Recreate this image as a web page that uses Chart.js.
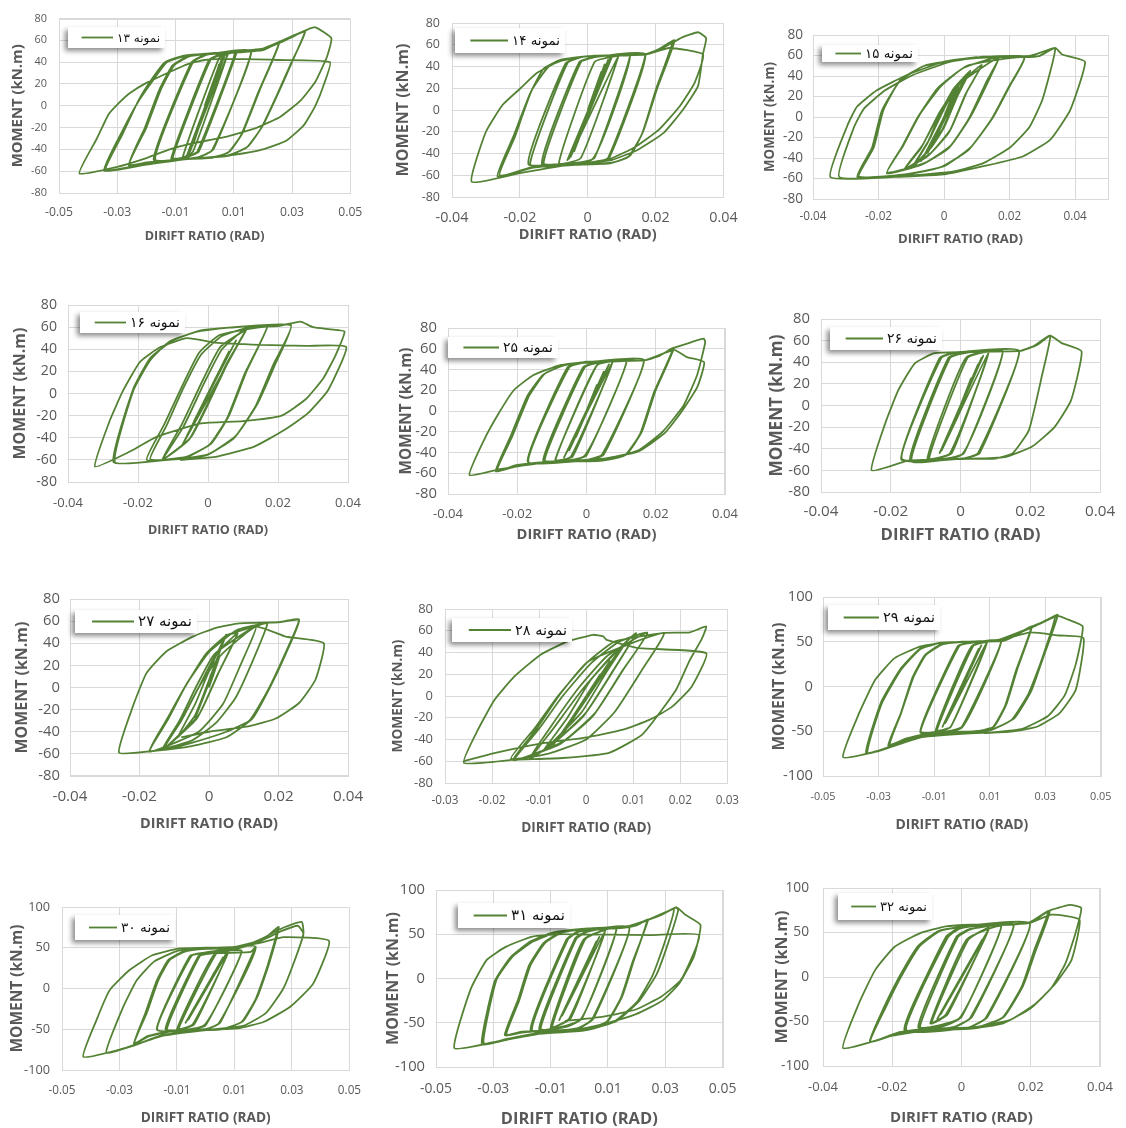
<!DOCTYPE html>
<html lang="en">
<head>
  <meta charset="UTF-8">
  <title>Moment - drift ratio hysteresis</title>
  <script src="https://cdn.jsdelivr.net/npm/chart.js"></script>
  <style>
    html, body { margin: 0; padding: 0; background: #fff; }
    body { position: relative; width: 1126px; height: 1128px; overflow: hidden; }
    canvas { position: absolute; }
  </style>
</head>
<body>
<script>
  // tick values shared by the panels
  const driftTicks05 = [-0.05, -0.03, -0.01, 0.01, 0.03, 0.05];
  const driftTicks04 = [-0.04, -0.02, 0, 0.02, 0.04];
  const driftTicks03 = [-0.03, -0.02, -0.01, 0, 0.01, 0.02, 0.03];
  const momentTicks80 = [-80, -60, -40, -20, 0, 20, 40, 60, 80];
  const momentTicks100 = [-100, -50, 0, 50, 100];

  const xTitle = 'DIRIFT RATIO (RAD)';
  const yTitle = 'MOMENT (kN.m)';

  // [drift (rad), moment (kN.m)] in loading order
  const hyst13 = [
    [0,0],[0.004,30],[-0.003,-28],[0.005,38],[-0.004,-36],[0.006,44],[-0.005,-42],[0.007,47],[-0.006,-45],[0.0065,45],[-0.0055,-44],
    [0.008,48],[-0.004,-42],[-0.0075,-47],[0.005,44],[0.0085,48],
    [0.011,49],[-0.002,-42],[-0.006,-47],[-0.011,-48],[0.002,42],[0.006,47],[0.0105,49],[-0.0025,-42],[-0.0065,-47],[-0.0115,-48.5],[0.0015,42],[0.006,47.5],
    [0.016,50],[0.003,-40],[-0.002,-47],[-0.017,-49],[-0.004,40],[0.001,47],[0.016,50],[0.0025,-41],[-0.003,-47.5],[-0.0175,-49.5],[-0.0045,40],[0.0005,47],
    [0.012,49],[0.02,51],[0.0255,57],[0.019,15],[0.013,-25],[0.0085,-42],[0.003,-47.5],[-0.01,-49.5],[-0.02,-52],[-0.026,-54],[-0.02,-20],[-0.015,15],[-0.0105,37],[-0.005,45.5],[0.005,48.5],[0.02,51.5],[0.0255,57.5],[0.0185,13],[0.0125,-27],[0.008,-43],[0.002,-47.5],[-0.012,-50],[-0.026,-55],[-0.0205,-20],[-0.0155,15],[-0.011,37],[-0.0055,45.5],[0.005,48.5],[0.02,52],[0.026,58],
    [0.03,63],[0.0345,68.5],[0.03,40],[0.025,10],[0.02,-18],[0.015,-37],[0.008,-46],[-0.005,-48.5],[-0.02,-53],[-0.034,-59],[-0.028,-25],[-0.0227,5],[-0.018,25],[-0.0136,40],[-0.007,46],[0.005,48.5],[0.02,52],[0.026,58],[0.0345,68],[0.0295,38],[0.0245,8],[0.0195,-20],[0.0145,-38],[0.0075,-46],[-0.006,-49],[-0.02,-54],[-0.0345,-59.5],[-0.028,-22],[-0.0225,5],[-0.017,26],[-0.013,40],[-0.006,46],[0.006,49],[0.02,52.5],[0.026,59],[0.031,65],
    [0.0345,69],[0.038,72],[0.0435,62],[0.042,45],[0.038,22],[0.033,5],[0.026,-10],[0.018,-20],[0.008,-28],[-0.005,-35],[-0.012,-40],[-0.02,-48],[-0.03,-56],[-0.043,-62],[-0.037,-30],[-0.033,-8],[-0.03,1],[-0.026,11],[-0.02,21],[-0.012,31],[-0.006,38],[0,42],[0.01,43],[0.025,42],[0.043,40],
    [0.041,20],[0.038,0],[0.034,-18],[0.028,-32],[0.02,-40],[0.01,-45],[0,-47.5],[-0.01,-48.5]
  ];

  const hyst14 = [
    [0,0],[0.004,35],[-0.003,-30],[0.005,42],[-0.004,-38],[0.006,46],[-0.005,-43],[0.007,48],[-0.006,-46],[0.0065,47],[-0.0055,-45],
    [0.009,49.5],[-0.002,-44],[-0.0085,-49],[0.002,44],[0.0085,49.5],
    [0.0125,50],[0.002,-44],[-0.003,-48.5],[-0.013,-49],[-0.002,44],[0.003,49],[0.0125,50],[0.0015,-45],[-0.0135,-49.5],[-0.0025,44],[0.003,49],
    [0.017,51],[0.0065,-43],[0.002,-48.5],[-0.008,-49.5],[-0.017,-50],[-0.006,43],[-0.001,49],[0.01,50.5],[0.017,51],[0.006,-44],[0.001,-49],[-0.0175,-50],[-0.0065,43],[-0.0015,49],[0.01,50.5],
    [0.017,51],[0.021,56],[0.0256,64],[0.0205,20],[0.0163,-20],[0.0125,-42],[0.007,-48.5],[-0.005,-50],[-0.016,-52],[-0.0266,-61],[-0.022,-25],[-0.017,15],[-0.013,38],[-0.008,46],[0,49.5],[0.017,51],[0.021,56],[0.025,63],[0.02,18],[0.016,-22],[0.012,-43],[0.0065,-49],[-0.005,-50.5],[-0.016,-53],[-0.026,-60],[-0.0215,-25],[-0.0165,18],[-0.0115,40],[-0.006,47],[0.002,50],[0.017,51.5],
    [0.022,57],[0.028,67],[0.0325,71.5],[0.0349,66],[0.034,52],[0.0325,22],[0.028,0],[0.0224,-21],[0.0148,-36.5],[0.007,-46],[-0.005,-50],[-0.02,-58],[-0.0342,-66],[-0.03,-20],[-0.025,5],[-0.0198,20],[-0.015,34],[-0.0083,45],[0,49.5],[0.017,51],[0.024,57],[0.034,51],
    [0.0315,25],[0.027,3],[0.021,-18],[0.014,-34],[0.0065,-45],[0,-48.5]
  ];

  const hyst15 = [
    [0,0],[0.003,25],[-0.003,-25],[0.005,35],[-0.005,-35],[0.007,42],[-0.007,-43],
    [0.008,45],[0.004,20],[0,-10],[-0.004,-30],[-0.0093,-48],[-0.005,-25],[-0.001,5],[0.003,28],[0.008,45],[0.0035,18],[-0.0005,-12],[-0.005,-33],[-0.0095,-48],[-0.0045,-22],[0,8],[0.004,30],
    [0.0115,51],[0.007,25],[0.002,-12],[-0.004,-35],[-0.0118,-50],[-0.007,-30],[-0.002,0],[0.004,30],[0.0115,51],[0.0065,22],[0.0015,-15],[-0.005,-38],[-0.012,-50.5],[-0.0065,-27],[-0.0015,4],[0.0045,32],
    [0.0166,58],[0.0135,35],[0.008,0],[0.002,-28],[-0.006,-45],[-0.0174,-54],[-0.013,-30],[-0.008,0],[-0.002,28],[0.006,48],[0.0166,58],[0.013,35],[0.0075,-2],[0.0015,-30],[-0.0065,-46],[-0.0175,-55],[-0.0125,-28],[-0.0075,2],[-0.001,30],[0.007,50],
    [0.0244,58],[0.02,30],[0.015,0],[0.008,-30],[0,-48],[-0.012,-56],[-0.026,-58],[-0.0215,-30],[-0.0185,7],[-0.0134,36],[-0.006,50],[0.001,54],[0.01,58],[0.0244,58.5],[0.0195,28],[0.0145,-2],[0.0075,-32],[-0.001,-49],[-0.013,-57],[-0.0265,-58.5],[-0.022,-30],[-0.019,6],[-0.0135,35],[-0.006,50],[0.005,56],[0.016,58.5],
    [0.0244,58.5],[0.029,59.5],[0.0339,67],[0.03,17],[0.026,-10],[0.02,-30],[0.012,-45],[0.003,-53],[-0.01,-57],[-0.032,-58.6],[-0.0275,-10],[-0.0245,8],[-0.018,26],[-0.0095,41],[0.002,54],[0.012,59],[0.026,59.5],
    [0.0339,67.5],[0.036,61],[0.043,54],[0.0385,7],[0.0324,-22],[0.024,-38.5],[0.012,-48],[0,-56],[-0.015,-58.5],[-0.0347,-58.6],[-0.0296,-9],[-0.0266,10],[-0.0205,26],[-0.0113,41],[0,54],[0.01,58.5]
  ];

  const hyst16 = [
    [0,0],[0.004,25],[-0.004,-25],[0.006,38],[-0.006,-38],[0.008,48],[-0.0074,-47],
    [0.0113,60],[0.006,30],[0,-10],[-0.005,-40],[-0.0127,-59],[-0.007,-30],[-0.001,10],[0.004,40],[0.0113,60],[0.0055,28],[-0.0005,-12],[-0.0055,-42],[-0.013,-59.5],[-0.0075,-28],[-0.0015,12],[0.0035,42],
    [0.0125,60.5],[0.017,61],[0.011,20],[0.006,-20],[0.001,-45],[-0.006,-57],[-0.0165,-59.5],[-0.012,-30],[-0.007,5],[-0.002,35],[0.004,52],[0.012,60],[0.017,61],[0.0105,18],[0.0055,-22],[0.0005,-46],[-0.0065,-58],[-0.0175,-60],[-0.0125,-28],[-0.0075,6],[-0.0025,37],[0.0035,53],
    [0.0237,62],[0.019,25],[0.014,-10],[0.008,-38],[0,-55],[-0.012,-60],[-0.0266,-62],[-0.0213,3],[-0.0165,30],[-0.011,47],[-0.003,56],[0.006,59.5],[0.0237,61.5],[0.0185,25],[0.0135,-12],[0.0075,-40],[-0.0005,-56],[-0.013,-60.5],[-0.027,-62],[-0.0215,3],[-0.0165,32],[-0.01,48],[-0.002,57],[0.01,60.5],
    [0.02,61],[0.0264,65],[0.03,60],[0.035,58],[0.039,56],[0.0365,35],[0.033,14],[0.028,-5],[0.021,-20],[0.01,-25],[-0.002,-27],[-0.0146,-39],[-0.022,-52],[-0.0323,-66],
    [-0.028,-24],[-0.0242,3],[-0.0194,28.7],[-0.0136,42],[-0.006,50],[0.002,46],[0.015,44],[0.028,43],[0.0395,42],
    [0.0343,3],[0.0285,-18],[0.0218,-33],[0.0132,-48],[0.0026,-57],[-0.008,-60]
  ];

  const hyst25 = [
    [0,0],[0.003,25],[-0.003,-25],[0.005,38],[-0.005,-38],[0.0065,45],[-0.0065,-45],
    [0.0075,47],[-0.004,-44],[-0.009,-47],[0.003,44],[0.0075,47],[-0.0045,-44],[-0.009,-47.5],[0.003,44],
    [0.0116,48],[0,-43],[-0.004,-47],[-0.0121,-47.5],[-0.0005,42],[0.004,47],[0.0116,48],[-0.0005,-43],[-0.0125,-48],[-0.001,42],[0.0035,47],
    [0.0166,49],[0.005,-42],[0,-47.5],[-0.0168,-48.8],[-0.005,42],[0,47],[0.0166,49],[0.0045,-42],[-0.0005,-47.5],[-0.017,-49],[-0.0055,42],[0,47.5],
    [0.017,49],[0.021,53],[0.0253,61],[0.02,20],[0.016,-20],[0.0115,-42],[0.005,-47.5],[-0.01,-48.5],[-0.02,-52],[-0.0258,-57],[-0.0215,-25],[-0.0165,15],[-0.012,36],[-0.006,44.5],[0.005,47.5],[0.017,49],[0.0215,54],[0.025,60],[0.0195,18],[0.0155,-22],[0.011,-43],[0.004,-48],[-0.01,-49],[-0.02,-53],[-0.0262,-58],[-0.022,-25],[-0.017,15],[-0.0125,35],[-0.0065,44],[0.004,47.5],[0.017,49],
    [0.022,55],[0.0253,61],[0.03,66],[0.0339,69.7],[0.0343,66],[0.032,35],[0.028,5],[0.022,-20],[0.015,-38],[0.0055,-46],[-0.01,-49],[-0.025,-56],[-0.0338,-61.7],[-0.0296,-28],[-0.0253,-2],[-0.021,20],[-0.0154,34.5],[-0.0078,44],[0,47.3],[0.017,49],[0.0253,59],[0.029,52],[0.034,47],
    [0.032,23],[0.0272,-2],[0.0225,-21.6],[0.015,-39],[0.0055,-45.6],[-0.005,-48]
  ];

  const hyst26 = [
    [0,0],[0.003,25],[-0.003,-25],[0.005,38],[-0.005,-38],[0.0065,46],[-0.006,-44],[0.006,44],[-0.0055,-42],
    [0.008,49],[-0.0025,-44],[-0.009,-49],[0.002,44],[0.008,49],[-0.003,-44],[-0.0095,-49],[0.0015,44],
    [0.0121,50],[0.001,-44],[-0.004,-49],[-0.0141,-50],[-0.003,44],[0.002,49],[0.0121,50],[0.0005,-45],[-0.0145,-51],[-0.0035,44],[0.0015,49],
    [0.0168,50.5],[0.0055,-44],[0.001,-49],[-0.0169,-49],[-0.0055,44],[-0.001,49],[0.0168,50.5],[0.005,-44],[0.0005,-49],[-0.017,-50],[-0.006,44],[-0.0015,49],
    [0.0168,50.5],[0.021,55],[0.0257,64.5],[0.0235,30],[0.0196,-22.8],[0.015,-44],[0.01,-49],[0,-49.5],[-0.015,-51],[-0.0255,-60],[-0.0216,-16.6],[-0.0178,14.4],[-0.0131,39],[-0.0075,48.4],[0,49.5],[0.017,50.5],[0.022,56],[0.0257,64.5],[0.029,57.7],[0.0347,50],
    [0.0317,5],[0.027,-19.7],[0.0205,-38],[0.013,-47.5],[0.0056,-49],[-0.005,-49.5]
  ];

  const hyst27 = [
    [0,0],[0.003,28],[-0.004,-28],[0.0049,47.7],[0.001,15],[-0.004,-25],[-0.009,-45],[-0.004,-15],[0,15],[0.005,47],
    [0.0082,49],[0.003,15],[-0.003,-25],[-0.0133,-56],[-0.008,-30],[-0.003,0],[0.002,30],[0.0082,49],[0.0025,12],[-0.0035,-28],[-0.0135,-56.5],[-0.0085,-30],[-0.0035,2],[0.0015,30],
    [0.0135,55],[0.009,20],[0.004,-15],[-0.003,-40],[-0.0171,-58],[-0.012,-30],[-0.007,0],[-0.001,30],[0.005,47],[0.0135,55.5],
    [0.0168,58],[0.012,20],[0.0075,-10],[0.002,-32],[-0.005,-48],[-0.0171,-57.5],[-0.012,-28],[-0.0065,3],[0,32],[0.008,52],[0.0168,58.5],
    [0.02,59],[0.0259,60.7],[0.022,30],[0.0175,0],[0.0125,-28],[0.005,-45],[-0.005,-53],[-0.015,-57],[-0.0259,-58.9],[-0.0219,-17],[-0.018,13],[-0.0123,32.6],[-0.0047,46],[0.002,54],[0.0087,58],[0.02,59],[0.0259,61.5],
    [0.0215,28],[0.0165,-5],[0.0116,-30],[0.005,-40],[-0.005,-50],[-0.013,-56],[-0.008,-30],[-0.003,0],[0.003,28],[0.0135,55],[0.022,46],[0.033,40],
    [0.0306,7],[0.0259,-14],[0.0192,-28],[0.0116,-35],[0,-40],[-0.008,-45]
  ];

  const hyst28 = [
    [0,0],[0.003,20],[-0.003,-20],[0.005,32],[-0.005,-35],[0.007,42],[-0.007,-45],
    [0.0085,50],[0.004,20],[-0.001,-15],[-0.009,-50],[-0.004,-20],[0.001,15],[0.0085,50],
    [0.0106,57.8],[0.006,25],[0,-15],[-0.006,-40],[-0.0118,-57.5],[-0.007,-30],[-0.001,5],[0.005,35],[0.0106,57.8],[0.0055,22],[-0.0005,-18],[-0.0065,-42],[-0.012,-57.5],[-0.0075,-28],[-0.0015,8],[0.0045,37],
    [0.013,58],[0.008,25],[0.002,-15],[-0.005,-42],[-0.0153,-59],[-0.01,-30],[-0.005,0],[0.001,30],[0.007,50],[0.013,58],[0.0075,22],[0.0015,-18],[-0.0055,-44],[-0.0155,-59],[-0.0105,-30],[-0.0055,2],[0.0005,32],
    [0.0165,58],[0.012,25],[0.006,-15],[0,-40],[-0.008,-53],[-0.016,-57.5],[-0.011,-30],[-0.006,0],[0,30],[0.006,50],[0.0165,58],
    [0.022,58.5],[0.0255,64],[0.0245,52],[0.022,33],[0.019,5],[0.012,-35],[0.005,-52],[-0.005,-57],[-0.015,-58.5],[-0.026,-61.5],[-0.023,-31],[-0.0195,-3.7],[-0.0153,17.8],[-0.0097,38],[-0.0041,50],[0.0015,56.3],[0.0036,54.8],[0.0043,51.7],[0.0113,44],[0.0255,39.4],
    [0.0224,8.6],[0.0182,-10],[0.0134,-22],[0.0078,-31],[0.0008,-37.5],[-0.01,-44],[-0.02,-53],[-0.026,-60]
  ];

  const hyst29 = [
    [0,0],[0.003,20],[-0.003,-20],[0.005,35],[-0.005,-35],[0.007,46],[-0.007,-45],[0.006,42],[-0.006,-41],
    [0.009,49],[-0.004,-45],[-0.009,-49],[0.004,45],[0.009,49],[-0.004,-45],[-0.0095,-50],[0.0035,45],
    [0.0142,51],[0,-45],[-0.005,-50],[-0.0149,-50.4],[-0.001,45],[0.004,49],[0.0142,51],[0,-46],[-0.015,-51],[-0.0015,45],[0.0035,49.5],
    [0.015,51],[0.02,58],[0.0252,67],[0.02,20],[0.016,-20],[0.0115,-45],[0.005,-50],[-0.01,-51],[-0.02,-58],[-0.026,-65],[-0.0219,-30],[-0.0175,10],[-0.013,35],[-0.007,47],[0,49.5],[0.012,51],[0.02,58],[0.025,66.5],[0.0195,18],[0.0155,-22],[0.011,-46],[0.004,-50.5],[-0.01,-51.5],[-0.02,-59],[-0.0265,-66],[-0.022,-30],[-0.0178,10],[-0.0133,35],[-0.0075,47],[0,50],[0.012,51.5],
    [0.02,58.5],[0.0252,67],[0.03,73],[0.0345,80],[0.029,30],[0.025,-5],[0.019,-35],[0.011,-48],[0,-51],[-0.015,-55],[-0.025,-66],[-0.034,-74],[-0.0288,-18.7],[-0.0219,18.7],[-0.0149,42],[-0.007,49],[0.005,50],[0.013,51.5],[0.02,59],[0.026,67],[0.0335,78],[0.0285,28],[0.024,-8],[0.018,-37],[0.01,-49],[-0.001,-51.5],[-0.015,-56],[-0.025,-67],[-0.0345,-74.5],[-0.029,-17],[-0.022,20],[-0.015,42.5],[-0.0075,49],[0.005,50.5],[0.013,52],
    [0.02,60],[0.028,70],[0.0345,79],[0.038,75],[0.0435,67],[0.041,25],[0.037,-10],[0.031,-33],[0.022,-47],[0.012,-51],[0,-53],[-0.015,-57],[-0.03,-72],[-0.0428,-79],[-0.037,-29.8],[-0.0312,7.5],[-0.0242,31.7],[-0.0149,44.8],[-0.0056,49.3],[0.005,50],[0.014,52],[0.0247,60.4],[0.035,57],[0.0438,54],
    [0.041,-3.7],[0.0351,-30],[0.027,-45],[0.0177,-50.4],[0.008,-52]
  ];

  const hyst30 = [
    [0,0],[0.003,20],[-0.003,-20],[0.005,32],[-0.005,-32],[0.007,42],[-0.007,-42],[0.006,38],[-0.006,-38],
    [0.008,46],[-0.004,-44],[-0.0095,-50],[0.0035,42],[0.008,46],[-0.0045,-44],[-0.01,-50],[0.003,42],
    [0.0125,46],[0,-45],[-0.005,-50],[-0.0135,-50],[-0.002,40],[0.002,43],[0.0125,46],[-0.0005,-45],[-0.014,-50.5],[-0.0025,40],[0.0015,43],
    [0.0157,45],[0.0174,51],[0.005,-42],[0,-50],[-0.0169,-50.2],[-0.005,40],[0,44],[0.0174,51],[0.0045,-43],[-0.0005,-50],[-0.017,-50.5],[-0.0055,40],[-0.0005,44],
    [0.012,50],[0.02,60],[0.0254,75.5],[0.022,30],[0.018,-10],[0.013,-40],[0.006,-50],[-0.01,-51],[-0.02,-58],[-0.0249,-67.3],[-0.0205,-30],[-0.0165,10],[-0.0125,35],[-0.0075,45],[0,48.5],[0.012,50],[0.02,60],[0.025,74],[0.0215,28],[0.0175,-12],[0.0125,-41],[0.005,-50.5],[-0.01,-51.5],[-0.02,-59],[-0.025,-68],[-0.021,-30],[-0.017,10],[-0.013,35],[-0.008,45],[0,49],[0.012,50.5],
    [0.02,62],[0.026,73],[0.0334,81.6],[0.034,67.3],[0.031,35],[0.027,0],[0.021,-30],[0.013,-46],[0,-51],[-0.015,-57],[-0.025,-70],[-0.0346,-78.8],[-0.029,-25],[-0.024,10],[-0.018,33],[-0.01,46],[0,49.5],[0.01,51],[0.02,60],[0.026,70],[0.032,77],[0.034,67],
    [0.031,35],[0.027,0],[0.021,-30],[0.013,-46],[0,-51],[-0.015,-58],[-0.03,-75],[-0.0426,-83.7],[-0.038,-38.8],[-0.0334,-2],[-0.0266,22.4],[-0.0186,40.8],[-0.0094,49],[0,50],[0.012,51.5],[0.02,57],[0.0271,63],[0.0429,58.4],
    [0.0374,6],[0.0294,-22.4],[0.0203,-40.8],[0.0111,-49],[0,-50.5]
  ];

  const hyst31 = [
    [0,0],[0.003,20],[-0.003,-20],[0.005,35],[-0.005,-35],[0.007,47],[-0.007,-47],[0.006,42],[-0.006,-42],
    [0.009,54],[-0.003,-45],[-0.0095,-55],[0.002,44],[0.009,54],[-0.0035,-45],[-0.01,-55.5],[0.0015,44],
    [0.013,57],[0.001,-45],[-0.004,-54],[-0.0135,-57],[-0.001,45],[0.003,53],[0.013,57],[0.0005,-46],[-0.014,-57.5],[-0.0015,45],[0.0025,53],
    [0.0175,57],[0.005,-45],[0,-56],[-0.0165,-58],[-0.004,44],[0,53],[0.0175,57.5],[0.0045,-46],[-0.0005,-56],[-0.017,-58.5],[-0.0045,44],[-0.0005,53],
    [0.016,57.5],[0.02,60],[0.0237,66],[0.019,20],[0.015,-20],[0.01,-48],[0.003,-57],[-0.01,-58.5],[-0.02,-60],[-0.0255,-63.5],[-0.021,-25],[-0.017,15],[-0.012,40],[-0.006,52],[0.003,56],[0.016,57.5],[0.02,60.5],[0.024,66.5],[0.0185,18],[0.0145,-22],[0.0095,-49],[0.002,-57.5],[-0.01,-59],[-0.02,-61],[-0.026,-64],[-0.0215,-25],[-0.0175,15],[-0.0125,40],[-0.0065,52],[0.003,56.5],[0.016,58],
    [0.02,61],[0.027,70],[0.0338,80.5],[0.0345,77],[0.031,40],[0.027,5],[0.021,-25],[0.013,-48],[0.003,-58],[-0.015,-62],[-0.025,-68],[-0.0334,-73],[-0.0289,-1.5],[-0.0232,25],[-0.016,42],[-0.008,52],[0.003,56],[0.016,58],[0.02,61],[0.027,70.5],[0.033,78],[0.0295,38],[0.0255,3],[0.02,-27],[0.012,-49],[0.002,-58.5],[-0.015,-63],[-0.025,-69],[-0.034,-74],[-0.0295,-3],[-0.024,24],[-0.017,42],[-0.009,52],[0.003,56.5],[0.016,58.5],
    [0.02,62],[0.028,71],[0.034,80],[0.037,72],[0.0423,60.5],[0.04,25],[0.035,-5],[0.029,-25],[0.02,-40],[0.01,-50],[0,-57],[-0.015,-62],[-0.03,-72],[-0.0436,-78.6],[-0.038,-12.8],[-0.0323,21],[-0.0255,36],[-0.0164,47.4],[-0.0074,50],[0.01,49.5],[0.025,49],[0.0418,49],
    [0.0355,-1.5],[0.0288,-20],[0.0197,-35],[0.0084,-43],[-0.005,-48]
  ];

  const hyst32 = [
    [0,0],[0.003,20],[-0.003,-20],[0.005,35],[-0.005,-35],[0.007,47],[-0.007,-47],[0.006,42],[-0.006,-42],
    [0.008,55],[-0.004,-42],[-0.0087,-52],[0.002,42],[0.008,55],[-0.0045,-42],[-0.009,-52],[0.0015,42],
    [0.0115,57],[0,-45],[-0.005,-55],[-0.012,-56],[-0.001,45],[0.003,54],[0.0115,57],[-0.0005,-46],[-0.0125,-56.5],[-0.0015,45],[0.0025,54],
    [0.0151,58.7],[0.003,-45],[-0.002,-56],[-0.0161,-59.5],[-0.004,45],[0,55],[0.0151,58.7],[0.0025,-46],[-0.0025,-56.5],[-0.0165,-60],[-0.0045,45],[-0.0005,55],
    [0.0198,60],[0.0075,-45],[0.002,-57],[-0.016,-59],[-0.004,44],[0,56],[0.0198,60],[0.007,-46],[0.0015,-57.5],[-0.0165,-59.5],[-0.0045,44],[-0.0005,56],
    [0.015,59],[0.02,61],[0.025,73],[0.021,30],[0.0175,-10],[0.012,-45],[0.005,-56],[-0.01,-58],[-0.018,-62],[-0.0263,-72.6],[-0.022,-35],[-0.0175,0],[-0.012,35],[-0.006,52],[0.003,57.5],[0.015,59],[0.02,61.5],[0.0255,74],[0.0215,30],[0.0178,-10],[0.0122,-45],[0.005,-56.5],[-0.01,-58.5],[-0.018,-63],[-0.0265,-73],[-0.0225,-35],[-0.018,0],[-0.0125,35],[-0.0065,52],[0.003,58],[0.015,59.5],
    [0.02,62],[0.025,74],[0.0313,81],[0.0346,77.5],[0.033,50],[0.03,15],[0.026,-12],[0.02,-35],[0.012,-52],[0.003,-58],[-0.01,-60],[-0.02,-66],[-0.0342,-80],[-0.0296,-29.5],[-0.0249,8],[-0.0193,34],[-0.0119,49.3],[-0.0045,56.8],[0.003,58.7],[0.015,59.5],[0.02,61],[0.026,70],[0.0341,64.4],
    [0.0318,19.3],[0.0272,-7],[0.0216,-29.5],[0.0141,-48.2],[0.0048,-55.7],[-0.005,-58]
  ];

  // panel layout in page pixels: cell = canvas box, plot = chart area,
  // xLab/xTit = centre line of x labels / x title, yTit = centre of y title,
  // yLab = right edge of y labels, fit = target text widths, legend = box + text width
  const panels = [
    { name: 'نمونه ۱۳', data: hyst13, xt: driftTicks05, xr: [-0.05, 0.05], yt: momentTicks80, yr: [-80, 80],
      cell: [0, 0, 375, 285], plot: [59, 17, 354, 193], xLab: 213, xTit: 236, yTit: 18, yLab: 47,
      fit: [28, 16, 120, 123], legend: [68, 27, 97, 21, 43] },
    { name: 'نمونه ۱۴', data: hyst14, xt: driftTicks04, xr: [-0.04, 0.04], yt: momentTicks80, yr: [-80, 80],
      cell: [375, 0, 375, 285], plot: [452, 23, 729, 197], xLab: 218, xTit: 235, yTit: 403, yLab: 440,
      fit: [33, 18.3, 138, 133], legend: [455, 28, 110, 25, 48] },
    { name: 'نمونه ۱۵', data: hyst15, xt: driftTicks04, xr: [-0.04, 0.05], yt: momentTicks80, yr: [-80, 80],
      cell: [750, 0, 376, 285], plot: [813, 35, 1108, 199], xLab: 217, xTit: 239, yTit: 770, yLab: 803,
      fit: [27, 20, 125, 110], legend: [822, 45, 96, 17, 48] },
    { name: 'نمونه ۱۶', data: hyst16, xt: driftTicks04, xr: [-0.04, 0.04], yt: momentTicks80, yr: [-80, 80],
      cell: [0, 285, 375, 290], plot: [68, 305, 348, 482], xLab: 503, xTit: 530, yTit: 20, yLab: 57,
      fit: [30, 20.7, 120, 132], legend: [80, 312, 105, 21, 50] },
    { name: 'نمونه ۲۵', data: hyst25, xt: driftTicks04, xr: [-0.04, 0.04], yt: momentTicks80, yr: [-80, 80],
      cell: [375, 285, 375, 290], plot: [448, 328, 730, 494], xLab: 514, xTit: 535, yTit: 407, yLab: 437,
      fit: [30, 21.7, 140, 127], legend: [448, 337, 110, 21, 50] },
    { name: 'نمونه ۲۶', data: hyst26, xt: driftTicks04, xr: [-0.04, 0.04], yt: momentTicks80, yr: [-80, 80],
      cell: [750, 285, 376, 290], plot: [821, 319, 1106, 492], xLab: 512, xTit: 535, yTit: 777, yLab: 810,
      fit: [35, 21.7, 160, 142], legend: [830, 327, 112, 23, 50] },
    { name: 'نمونه ۲۷', data: hyst27, xt: driftTicks04, xr: [-0.04, 0.04], yt: momentTicks80, yr: [-80, 80],
      cell: [0, 575, 375, 290], plot: [70, 599, 349, 776], xLab: 797, xTit: 824, yTit: 22, yLab: 60,
      fit: [35, 21.7, 138, 132], legend: [75, 610, 122, 23, 54] },
    { name: 'نمونه ۲۸', data: hyst28, xt: driftTicks03, xr: [-0.03, 0.03], yt: momentTicks80, yr: [-80, 80],
      cell: [375, 575, 375, 290], plot: [445, 609, 731, 783], xLab: 801, xTit: 828, yTit: 398, yLab: 433,
      fit: [27, 19, 130, 113], legend: [452, 618, 120, 24, 52] },
    { name: 'نمونه ۲۹', data: hyst29, xt: driftTicks05, xr: [-0.05, 0.05], yt: momentTicks100, yr: [-100, 100],
      cell: [750, 575, 376, 290], plot: [823, 597, 1109, 776], xLab: 797, xTit: 825, yTit: 780, yLab: 813,
      fit: [25, 30, 133, 128], legend: [828, 605, 112, 25, 52] },
    { name: 'نمونه ۳۰', data: hyst30, xt: driftTicks05, xr: [-0.05, 0.05], yt: momentTicks100, yr: [-100, 100],
      cell: [0, 865, 375, 263], plot: [62, 907, 353, 1070], xLab: 1091, xTit: 1118, yTit: 18, yLab: 50,
      fit: [27, 26, 130, 128], legend: [75, 915, 100, 25, 49] },
    { name: 'نمونه ۳۱', data: hyst31, xt: driftTicks05, xr: [-0.05, 0.05], yt: momentTicks100, yr: [-100, 100],
      cell: [375, 865, 375, 263], plot: [436, 890, 731, 1067], xLab: 1089, xTit: 1119, yTit: 393, yLab: 425,
      fit: [32, 30, 157, 133], legend: [458, 903, 112, 25, 54] },
    { name: 'نمونه ۳۲', data: hyst32, xt: driftTicks04, xr: [-0.04, 0.04], yt: momentTicks100, yr: [-100, 100],
      cell: [750, 865, 376, 263], plot: [823, 888, 1109, 1066], xLab: 1087, xTit: 1118, yTit: 782, yLab: 809,
      fit: [30, 28, 143, 133], legend: [838, 893, 94, 27, 47] }
  ];

  const LINE = '#548235';
  const GRID = '#d9d9d9';
  const TEXT = '#595959';
  const FONT = "'Open Sans', sans-serif";
  const LEGEND_FONT = "'DejaVu Sans', sans-serif";

  const meter = document.createElement('canvas').getContext('2d');
  function fitSize(text, weight, family, width) {
    meter.font = weight + ' 100px ' + family;
    return 100 * width / meter.measureText(text).width;
  }

  // light grey box round the plot area, like the spreadsheet chart
  const plotFrame = {
    id: 'plotFrame',
    beforeDatasetsDraw(chart) {
      const { ctx, chartArea: a } = chart;
      ctx.save();
      ctx.strokeStyle = GRID;
      ctx.lineWidth = 1;
      ctx.strokeRect(Math.round(a.left) + 0.5, Math.round(a.top) + 0.5,
        Math.round(a.right) - Math.round(a.left), Math.round(a.bottom) - Math.round(a.top));
      ctx.restore();
    }
  };

  function drawPanel(p) {
    const [cx, cy, W, H] = p.cell;
    const [pl, pt, pr, pb] = p.plot;
    const cv = document.createElement('canvas');
    cv.width = W; cv.height = H;
    cv.style.left = cx + 'px'; cv.style.top = cy + 'px';
    cv.style.width = W + 'px'; cv.style.height = H + 'px';
    document.body.appendChild(cv);

    const xTickSize = fitSize(String(p.xt[0]), 'normal', FONT, p.fit[0]);
    const yTickSize = fitSize(String(p.yt[0]), 'normal', FONT, p.fit[1]);
    const xTitleSize = fitSize(xTitle, 'bold', FONT, p.fit[2]);
    const yTitleSize = fitSize(yTitle, 'bold', FONT, p.fit[3]);

    const padLeft = p.yTit - cx - yTitleSize * 0.6;
    const padBottom = H - (p.xTit - cy) - xTitleSize * 0.6;
    const yAxisWidth = (pl - cx) - padLeft;
    const xAxisHeight = (p.xTit - cy) + xTitleSize * 0.6 - (pb - cy);

    const [bx, by, bw, bh, tw] = p.legend;
    const sampleLegend = {
      id: 'sampleLegend',
      afterDatasetsDraw(chart) {
        const ctx = chart.ctx;
        const x = bx - cx, y = by - cy;
        ctx.save();
        ctx.shadowColor = 'rgba(0,0,0,0.45)';
        ctx.shadowBlur = 5;
        ctx.shadowOffsetX = -3;
        ctx.shadowOffsetY = 3;
        ctx.fillStyle = '#fff';
        ctx.fillRect(x, y, bw, bh);
        ctx.restore();

        const label = chart.data.datasets[0].label;
        const size = fitSize(label, 'normal', LEGEND_FONT, tw);
        const textRight = x + bw - 5;
        const textLeft = textRight - tw;
        ctx.save();
        ctx.strokeStyle = LINE;
        ctx.lineWidth = 1.8;
        ctx.beginPath();
        ctx.moveTo(x + bw * 0.14, y + bh / 2);
        ctx.lineTo(textLeft - 4, y + bh / 2);
        ctx.stroke();
        ctx.font = size.toFixed(2) + 'px ' + LEGEND_FONT;
        ctx.fillStyle = '#111';
        ctx.textAlign = 'right';
        ctx.textBaseline = 'middle';
        ctx.fillText(label, textRight, y + bh / 2 + 1);
        ctx.restore();
      }
    };

    new Chart(cv, {
      type: 'scatter',
      data: {
        datasets: [{
          label: p.name,
          data: p.data.map(([x, y]) => ({ x, y })),
          showLine: true,
          fill: false,
          borderColor: LINE,
          borderWidth: 1.8,
          pointRadius: 0,
          pointHoverRadius: 0,
          tension: 0.15
        }]
      },
      options: {
        responsive: false,
        animation: false,
        events: [],
        layout: { padding: { left: padLeft, top: pt - cy, right: cx + W - pr, bottom: padBottom } },
        plugins: { legend: { display: false }, tooltip: { enabled: false } },
        scales: {
          x: {
            type: 'linear', min: p.xr[0], max: p.xr[1],
            afterBuildTicks: s => { s.ticks = p.xt.map(v => ({ value: v })); },
            afterFit: s => { s.height = xAxisHeight; },
            grid: { color: GRID, drawTicks: false },
            border: { display: false },
            ticks: {
              padding: p.xLab - pb - xTickSize * 0.6,
              maxRotation: 0, autoSkip: false,
              color: TEXT, font: { family: FONT, size: xTickSize },
              callback: v => String(v)
            },
            title: { display: true, text: xTitle, color: TEXT, padding: 0,
              font: { family: FONT, size: xTitleSize, weight: 'bold', lineHeight: 1.2 } }
          },
          y: {
            type: 'linear', min: p.yr[0], max: p.yr[1],
            afterBuildTicks: s => { s.ticks = p.yt.map(v => ({ value: v })); },
            afterFit: s => { s.width = yAxisWidth; },
            grid: { color: GRID, drawTicks: false },
            border: { display: false },
            ticks: {
              padding: pl - p.yLab, autoSkip: false,
              color: TEXT, font: { family: FONT, size: yTickSize },
              callback: v => String(v)
            },
            title: { display: true, text: yTitle, color: TEXT, padding: 0,
              font: { family: FONT, size: yTitleSize, weight: 'bold', lineHeight: 1.2 } }
          }
        }
      },
      plugins: [plotFrame, sampleLegend]
    });
  }

  panels.forEach(drawPanel);
</script>
</body>
</html>
